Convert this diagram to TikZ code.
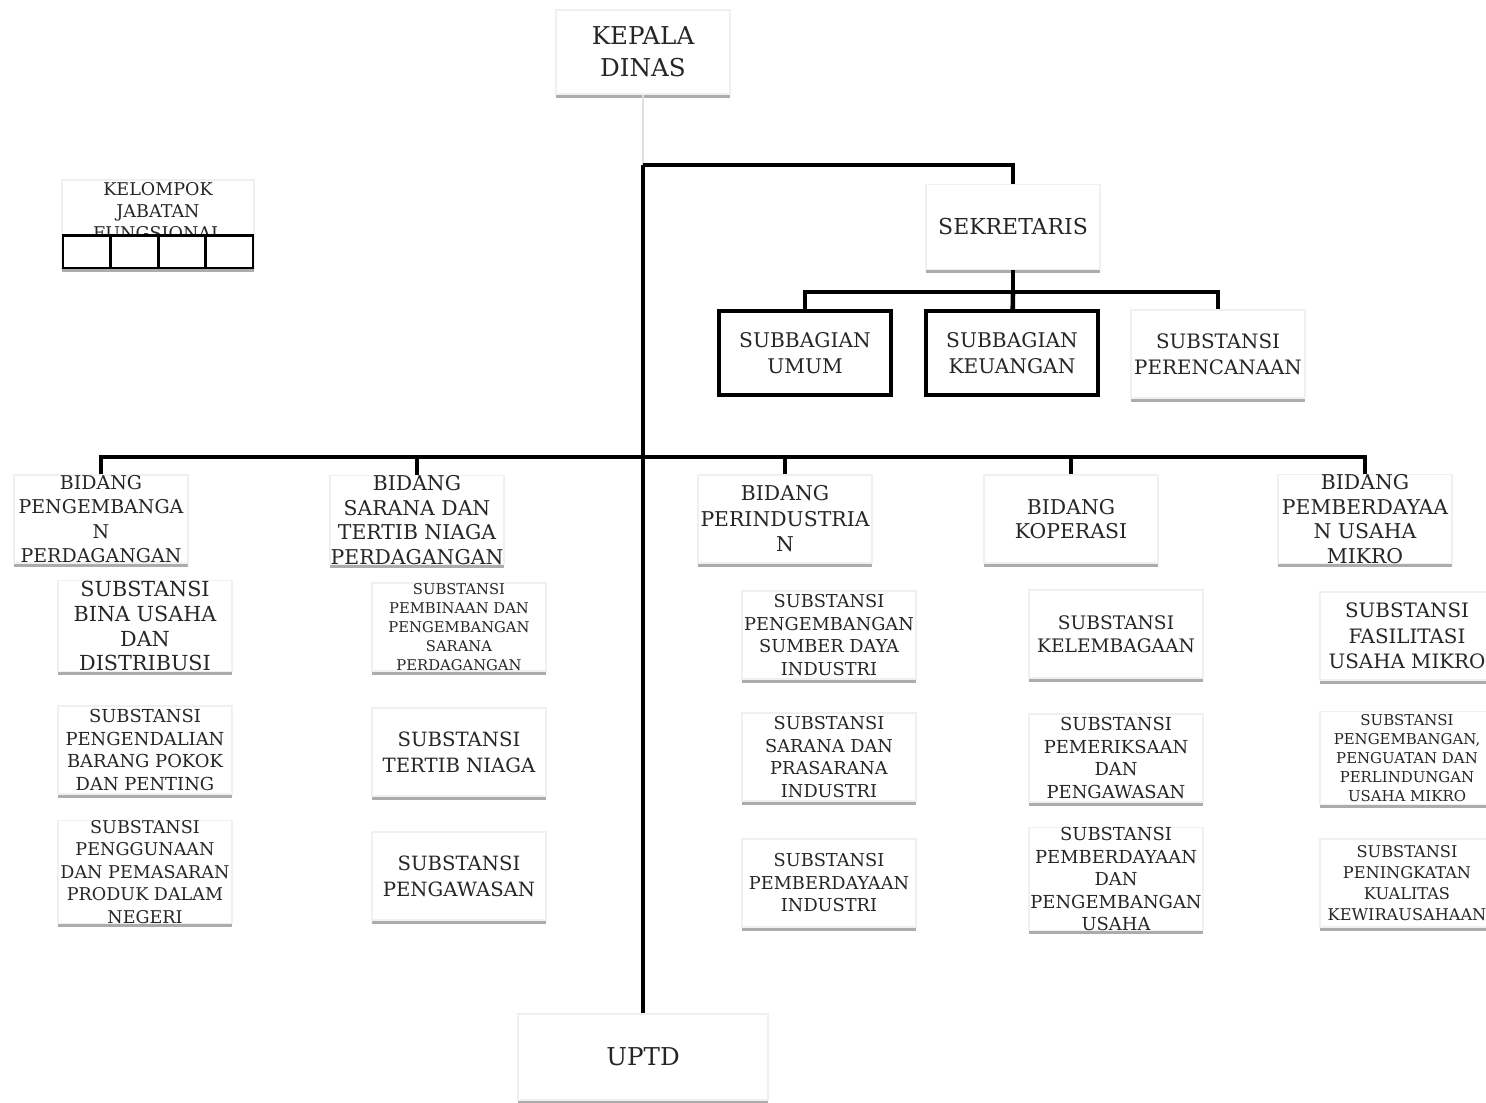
\documentclass[tikz,border=0pt]{standalone}
\usepackage{fontspec}
\setmainfont{DejaVu Serif}
\usetikzlibrary{shadows}

\begin{document}
\begin{tikzpicture}[x=0.02cm,y=-0.02cm,thick,
  unit node/.style={rectangle,fill=white,draw=black!6,align=center,
  inner sep=0pt,text=black!85,minimum width=3.48cm,minimum height=1.76cm,
  drop shadow={shadow xshift=0pt,shadow yshift=-2pt,opacity=.5,fill=black!65}},
  boxed node/.style={rectangle,fill=white,draw=black,line width=2.4pt,
  align=center,inner sep=0pt,text=black!85,minimum width=3.44cm,minimum height=1.68cm},
  cell node/.style={rectangle,fill=white,draw=black,line width=1.7pt,
  minimum width=0.95cm,minimum height=0.66cm,inner sep=0pt},
  bidang node/.style={unit node,font=\fontsize{11.6}{13.9}\selectfont},
  link/.style={line width=2.6pt},
  faint/.style={black!12,line width=0.6pt}]

  \useasboundingbox (0,0) rectangle (1486,1102);

  %Pimpinan dan sekretariat%
  \node[unit node,minimum height=1.68cm,font=\fontsize{14}{18}\selectfont] (kepala) at (643,52) {KEPALA\\DINAS};
  \node[unit node,minimum height=1.7cm,font=\fontsize{12.5}{15}\selectfont] (sekretaris) at (1013,227) {SEKRETARIS};
  \node[boxed node,font=\fontsize{11.5}{14.7}\selectfont] (umum) at (805,353) {SUBBAGIAN\\UMUM};
  \node[boxed node,font=\fontsize{11.5}{14.7}\selectfont] (keuangan) at (1012,353) {SUBBAGIAN\\KEUANGAN};
  \node[unit node,font=\fontsize{11.3}{14.7}\selectfont] (perencanaan) at (1218,354) {SUBSTANSI\\PERENCANAAN};

  %Kelompok jabatan fungsional%
  \node[unit node,minimum width=3.84cm] (kelompok) at (158,224) {};
  \node[align=center,inner sep=0pt,text=black!85,font=\fontsize{10}{12.5}\selectfont] (kelompok text) at (158,211) {KELOMPOK\\JABATAN\\FUNGSIONAL};
  \foreach \i in {1,...,4}
    \node[cell node] (cell\i) at ({39.25+47.5*\i},251.5) {};

  %Bidang%
  \node[bidang node,font=\fontsize{10.8}{13.9}\selectfont] (pengembangan) at (101,519) {BIDANG\\PENGEMBANGA\\N\\PERDAGANGAN};
  \node[bidang node] (sarana) at (417,520) {BIDANG\\SARANA DAN\\TERTIB NIAGA\\PERDAGANGAN};
  \node[bidang node,font=\fontsize{11.6}{14.5}\selectfont] (perindustrian) at (785,519) {BIDANG\\PERINDUSTRIA\\N};
  \node[bidang node] (koperasi) at (1071,519) {BIDANG\\KOPERASI};
  \node[bidang node] (mikro) at (1365,519) {BIDANG\\PEMBERDAYAA\\N USAHA\\MIKRO};

  %Substansi bidang pengembangan perdagangan%
  \node[unit node,font=\fontsize{11.8}{14.2}\selectfont] (bina) at (145,626) {SUBSTANSI\\BINA USAHA\\DAN\\DISTRIBUSI};
  \node[unit node,font=\fontsize{10.2}{12.8}\selectfont] (pengendalian) at (145,750) {SUBSTANSI\\PENGENDALIAN\\BARANG POKOK\\DAN PENTING};
  \node[unit node,minimum height=2cm,font=\fontsize{10}{12.8}\selectfont] (penggunaan) at (145,872) {SUBSTANSI\\PENGGUNAAN\\DAN PEMASARAN\\PRODUK DALAM\\NEGERI};

  %Substansi bidang sarana dan tertib niaga%
  \node[unit node,font=\fontsize{8.4}{10.9}\selectfont] (pembinaan) at (459,627) {SUBSTANSI\\PEMBINAAN DAN\\PENGEMBANGAN\\SARANA\\PERDAGANGAN};
  \node[unit node,font=\fontsize{11.2}{14.7}\selectfont] (tertib) at (459,752) {SUBSTANSI\\TERTIB NIAGA};
  \node[unit node,font=\fontsize{11.2}{14.7}\selectfont] (pengawasan) at (459,876) {SUBSTANSI\\PENGAWASAN};

  %Substansi bidang perindustrian%
  \node[unit node,font=\fontsize{10.1}{12.8}\selectfont] (sdm) at (829,635) {SUBSTANSI\\PENGEMBANGAN\\SUMBER DAYA\\INDUSTRI};
  \node[unit node,font=\fontsize{10.1}{12.8}\selectfont] (prasarana) at (829,757) {SUBSTANSI\\SARANA DAN\\PRASARANA\\INDUSTRI};
  \node[unit node,font=\fontsize{10.1}{12.8}\selectfont] (industri) at (829,883) {SUBSTANSI\\PEMBERDAYAAN\\INDUSTRI};

  %Substansi bidang koperasi%
  \node[unit node,font=\fontsize{10.6}{13}\selectfont] (kelembagaan) at (1116,634) {SUBSTANSI\\KELEMBAGAAN};
  \node[unit node,font=\fontsize{10.2}{12.8}\selectfont] (pemeriksaan) at (1116,758) {SUBSTANSI\\PEMERIKSAAN\\DAN\\PENGAWASAN};
  \node[unit node,minimum height=2cm,font=\fontsize{10.2}{12.8}\selectfont] (usaha) at (1116,879) {SUBSTANSI\\PEMBERDAYAAN\\DAN\\PENGEMBANGAN\\USAHA};

  %Substansi bidang usaha mikro%
  \node[unit node,font=\fontsize{11.3}{14.5}\selectfont] (fasilitasi) at (1407,636) {SUBSTANSI\\FASILITASI\\USAHA MIKRO};
  \node[unit node,minimum height=1.86cm,font=\fontsize{8.5}{10.9}\selectfont] (penguatan) at (1407,758) {SUBSTANSI\\PENGEMBANGAN,\\PENGUATAN DAN\\PERLINDUNGAN\\USAHA MIKRO};
  \node[unit node,font=\fontsize{9.2}{11.9}\selectfont] (kewirausahaan) at (1407,883) {SUBSTANSI\\PENINGKATAN\\KUALITAS\\KEWIRAUSAHAAN};

  \node[unit node,minimum width=5cm,minimum height=1.72cm,font=\fontsize{14}{18}\selectfont] (uptd) at (643,1057) {UPTD};

  %Garis komando%
  \coordinate (top) at (643,165);
  \coordinate (mid) at (643,457);
  \coordinate (sek bar) at (1013,292);
  \draw[faint] (kepala) -- (top);
  \draw[link] (top) -- (uptd);
  \draw[link] (top) -| (sekretaris);
  \draw[link] (sekretaris) -- (sek bar);
  \draw[link] (umum.north) |- (perencanaan.north |- sek bar) -- (perencanaan.north);
  \draw[link] (keuangan) -- (sek bar);
  \draw[link] (pengembangan.north) |- (mikro.north |- mid) -- (mikro.north);
  \foreach \b in {sarana,perindustrian,koperasi}
    \draw[link] (\b.north) -- (\b.north |- mid);

\end{tikzpicture}
\end{document}
